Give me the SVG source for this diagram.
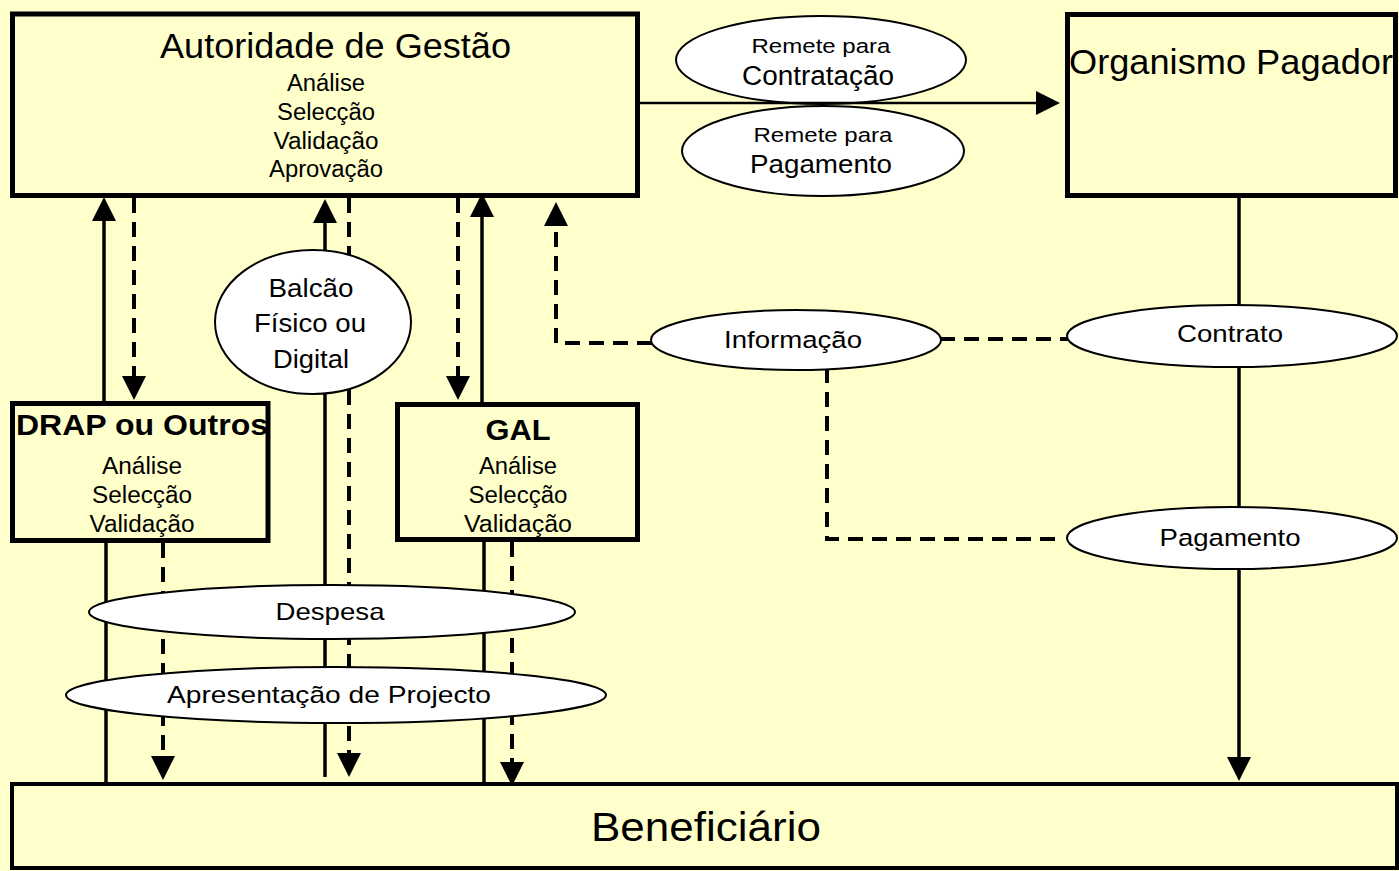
<svg xmlns="http://www.w3.org/2000/svg" width="1399" height="871" viewBox="0 0 1399 871">
<style>
.box{fill:#FFFFCC;stroke:#000;stroke-width:5}
.ell{fill:#fff;stroke:#000;stroke-width:2}
.t{font-family:"Liberation Sans",Arial,sans-serif;fill:#000;text-anchor:middle}
.b{font-weight:bold}
.solid{fill:none;stroke:#000;stroke-width:3.5}
.dash{fill:none;stroke:#000;stroke-width:4;stroke-dasharray:15 9}
.thin{fill:none;stroke:#000;stroke-width:2.5}
</style>
<defs>
<marker id="arr" viewBox="0 0 24 24" markerWidth="24" markerHeight="24" markerUnits="userSpaceOnUse" refX="4" refY="12" orient="auto">
<path d="M0,0 L24,12 L0,24 z" fill="#000"/>
</marker>
</defs>
<rect x="0" y="0" width="1399" height="871" fill="#FFFFCC"/>

<g id="remete-contratacao">
<ellipse class="ell" cx="821" cy="60" rx="145" ry="44"/>
<text class="t" x="821" y="53" font-size="20.5" textLength="139" lengthAdjust="spacingAndGlyphs">Remete para</text>
<text class="t" x="818" y="85" font-size="27" textLength="152" lengthAdjust="spacingAndGlyphs">Contratação</text>
</g>
<g id="remete-pagamento">
<ellipse class="ell" cx="823" cy="151" rx="141" ry="45"/>
<text class="t" x="823" y="141.5" font-size="20.5" textLength="139" lengthAdjust="spacingAndGlyphs">Remete para</text>
<text class="t" x="821" y="173" font-size="26.5" textLength="142" lengthAdjust="spacingAndGlyphs">Pagamento</text>
</g>

<g id="connectors">
<path class="thin" d="M634,103 H1040" marker-end="url(#arr)"/>
<path class="solid" d="M104,401 V217" marker-end="url(#arr)"/>
<path class="dash" d="M134,198 V380" marker-end="url(#arr)"/>
<path class="solid" d="M325,252 V219" marker-end="url(#arr)"/>
<path class="solid" d="M325,390 V777"/>
<path class="dash" d="M349,198 V757" marker-end="url(#arr)"/>
<path class="dash" d="M458,198 V380" marker-end="url(#arr)"/>
<path class="solid" d="M482,402 V213" marker-end="url(#arr)"/>
<path class="dash" d="M652,343 H556 V222" marker-end="url(#arr)"/>
<path class="solid" d="M106,542 V782"/>
<path class="dash" d="M163,543 V760" marker-end="url(#arr)"/>
<path class="solid" d="M484,541 V782"/>
<path class="dash" d="M512,542 V766" marker-end="url(#arr)"/>
<path class="solid" d="M1239,197 V308"/>
<path class="solid" d="M1239,364 V510"/>
<path class="solid" d="M1239,566 V761" marker-end="url(#arr)"/>
<path class="dash" d="M940,339 H1068"/>
<path class="dash" d="M827,368 V539 H1062"/>
</g>

<g id="autoridade-gestao">
<rect class="box" x="12.5" y="14" width="625" height="181.5"/>
<text class="t" x="335.5" y="58" font-size="34.5" textLength="351" lengthAdjust="spacingAndGlyphs">Autoridade de Gestão</text>
<text class="t" x="326" y="91" font-size="23" textLength="78" lengthAdjust="spacingAndGlyphs">Análise</text>
<text class="t" x="326" y="120" font-size="23" textLength="98" lengthAdjust="spacingAndGlyphs">Selecção</text>
<text class="t" x="326" y="148.5" font-size="23" textLength="105" lengthAdjust="spacingAndGlyphs">Validação</text>
<text class="t" x="326" y="177" font-size="23" textLength="114" lengthAdjust="spacingAndGlyphs">Aprovação</text>
</g>

<g id="organismo-pagador">
<rect class="box" x="1067.5" y="14.5" width="328" height="181"/>
<text class="t" x="1069" y="74" font-size="35" style="text-anchor:start" textLength="324" lengthAdjust="spacingAndGlyphs">Organismo Pagador</text>
</g>

<g id="balcao">
<ellipse class="ell" cx="313" cy="322" rx="98" ry="72"/>
<text class="t" x="311" y="297" font-size="26" textLength="85" lengthAdjust="spacingAndGlyphs">Balcão</text>
<text class="t" x="310" y="332" font-size="26" textLength="112" lengthAdjust="spacingAndGlyphs">Físico ou</text>
<text class="t" x="311" y="368" font-size="26" textLength="76" lengthAdjust="spacingAndGlyphs">Digital</text>
</g>

<g id="informacao">
<ellipse class="ell" cx="796" cy="340" rx="145" ry="30"/>
<text class="t" x="793" y="348" font-size="24.5" textLength="138" lengthAdjust="spacingAndGlyphs">Informação</text>
</g>

<g id="contrato">
<ellipse class="ell" cx="1232" cy="336" rx="165" ry="31"/>
<text class="t" x="1230" y="342" font-size="24.5" textLength="106" lengthAdjust="spacingAndGlyphs">Contrato</text>
</g>

<g id="pagamento">
<ellipse class="ell" cx="1232" cy="538" rx="165" ry="31"/>
<text class="t" x="1230" y="546" font-size="24.5" textLength="141" lengthAdjust="spacingAndGlyphs">Pagamento</text>
</g>

<g id="drap">
<rect class="box" x="12.5" y="403.5" width="255.5" height="137"/>
<text class="t b" x="16" y="435" font-size="29" style="text-anchor:start" textLength="252" lengthAdjust="spacingAndGlyphs">DRAP ou Outros</text>
<text class="t" x="142" y="474" font-size="23" textLength="80" lengthAdjust="spacingAndGlyphs">Análise</text>
<text class="t" x="142" y="503" font-size="23" textLength="100" lengthAdjust="spacingAndGlyphs">Selecção</text>
<text class="t" x="142" y="532" font-size="23" textLength="105" lengthAdjust="spacingAndGlyphs">Validação</text>
</g>

<g id="gal">
<rect class="box" x="397.5" y="404.5" width="240" height="135"/>
<text class="t b" x="518" y="440" font-size="29" textLength="65" lengthAdjust="spacingAndGlyphs">GAL</text>
<text class="t" x="518" y="474" font-size="23" textLength="78" lengthAdjust="spacingAndGlyphs">Análise</text>
<text class="t" x="518" y="503" font-size="23" textLength="99" lengthAdjust="spacingAndGlyphs">Selecção</text>
<text class="t" x="518" y="532" font-size="23" textLength="108" lengthAdjust="spacingAndGlyphs">Validação</text>
</g>

<g id="despesa">
<ellipse class="ell" cx="332" cy="612" rx="243" ry="27"/>
<text class="t" x="330" y="620" font-size="24" textLength="109" lengthAdjust="spacingAndGlyphs">Despesa</text>
</g>

<g id="apresentacao">
<ellipse class="ell" cx="336" cy="695" rx="270" ry="28"/>
<text class="t" x="329" y="703" font-size="24" textLength="324" lengthAdjust="spacingAndGlyphs">Apresentação de Projecto</text>
</g>

<g id="beneficiario">
<rect class="box" x="12" y="784" width="1385" height="84" style="stroke-width:4"/>
<text class="t" x="706" y="841" font-size="41" textLength="230" lengthAdjust="spacingAndGlyphs">Beneficiário</text>
</g>
</svg>
